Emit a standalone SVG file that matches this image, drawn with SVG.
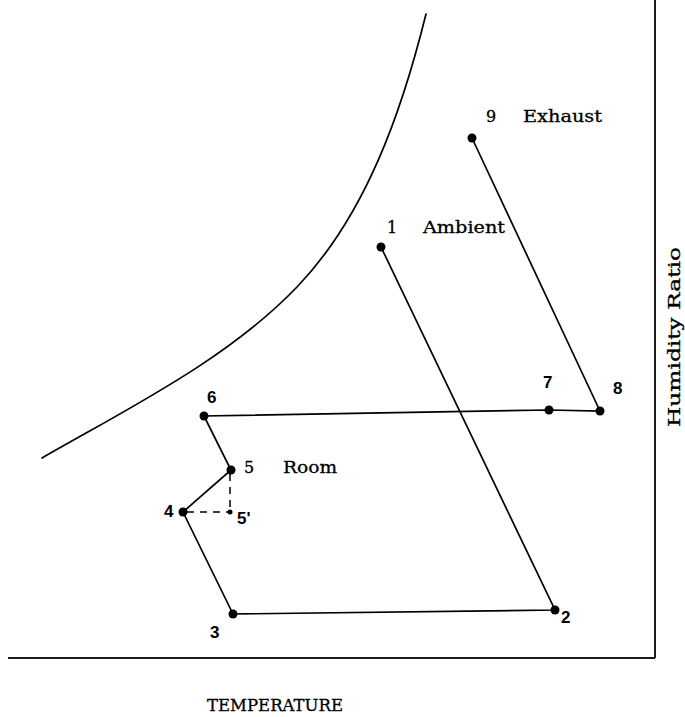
<svg xmlns="http://www.w3.org/2000/svg" width="685" height="717" viewBox="0 0 685 717">
<style>
.ln{stroke:#000;stroke-width:1.7;fill:none;stroke-linecap:round}
.ds{stroke:#000;stroke-width:1.5;fill:none;stroke-dasharray:7,6}
.ax{stroke:#1a1a1a;stroke-width:2;fill:none}
.dot{fill:#000}
.ser{font-family:"DejaVu Serif","Liberation Serif",serif;font-size:16px;fill:#000;stroke:#000;stroke-width:0.3}
.san{font-family:"Liberation Sans",Arial,sans-serif;font-size:17px;font-weight:bold;fill:#000}
</style>
<rect width="685" height="717" fill="#fff"/>
<g id="axes">
<line class="ax" x1="655" y1="0" x2="655" y2="658"/>
<line class="ax" x1="8" y1="658" x2="655" y2="658"/>
</g>
<g id="saturation-curve">
<path class="ln" d="M42 458 C129 408 228 359 297 287 C366 215 402 111 426 14"/>
</g>
<g id="connectors">
<polyline class="ln" points="381,247 555,610 233,614 183,512 231,470 204,416 549,410 600,411 472,138"/>
<line class="ds" x1="187" y1="512" x2="229" y2="512"/>
<line class="ds" x1="230" y1="474" x2="230" y2="511"/>
</g>
<g id="p1"><circle class="dot" cx="381" cy="247" r="4.5"/><text class="ser" x="387" y="233">1</text><text class="ser" x="423" y="233" textLength="82" lengthAdjust="spacingAndGlyphs">Ambient</text></g>
<g id="p2"><circle class="dot" cx="555" cy="610" r="4.5"/><text class="san" x="561" y="623">2</text></g>
<g id="p3"><circle class="dot" cx="233" cy="614" r="4.5"/><text class="san" x="210" y="638">3</text></g>
<g id="p4"><circle class="dot" cx="183" cy="512" r="4.5"/><text class="san" x="164" y="517">4</text></g>
<g id="p5"><circle class="dot" cx="231" cy="470" r="4.5"/><text class="ser" x="244" y="473">5</text><text class="ser" x="283" y="473" textLength="54" lengthAdjust="spacingAndGlyphs">Room</text></g>
<g id="p5prime"><circle class="dot" cx="230" cy="512" r="2.5"/><text class="san" x="237" y="524">5'</text></g>
<g id="p6"><circle class="dot" cx="204" cy="416" r="4.5"/><text class="san" x="207" y="403">6</text></g>
<g id="p7"><circle class="dot" cx="549" cy="410" r="4.5"/><text class="san" x="543" y="388">7</text></g>
<g id="p8"><circle class="dot" cx="600" cy="411" r="4.5"/><text class="san" x="613" y="394">8</text></g>
<g id="p9"><circle class="dot" cx="472" cy="138" r="4.5"/><text class="ser" x="486" y="122">9</text><text class="ser" x="523" y="122" textLength="79" lengthAdjust="spacingAndGlyphs">Exhaust</text></g>
<g id="labels">
<text class="ser" x="207" y="711" font-size="14" textLength="136" lengthAdjust="spacingAndGlyphs">TEMPERATURE</text>
<text class="ser" transform="translate(680,427) rotate(-90)" x="0" y="0" font-size="18" textLength="180" lengthAdjust="spacingAndGlyphs">Humidity Ratio</text>
</g>
</svg>
